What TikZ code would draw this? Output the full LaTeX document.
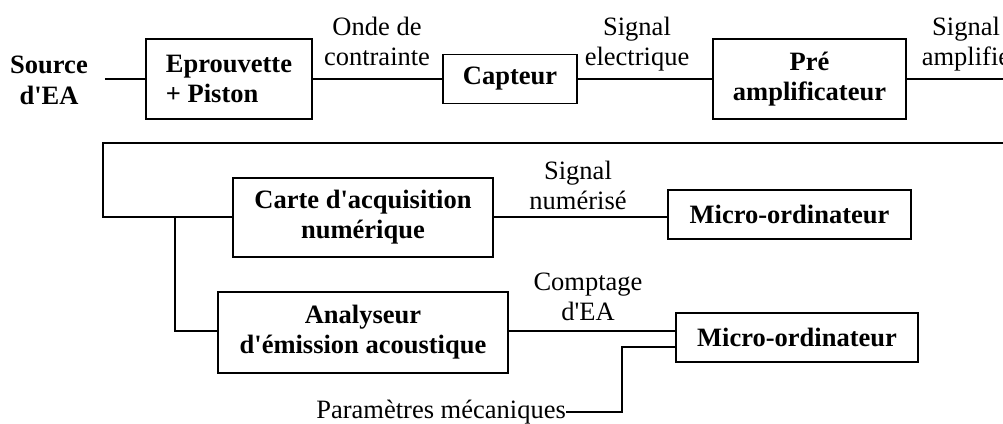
\documentclass[tikz,border=0pt]{standalone}
\usepackage{fontspec}
\newfontfamily\tnr{Liberation Serif}
\begin{document}
\begin{tikzpicture}[x=1pt,y=-1pt,
  every node/.style={font=\tnr\fontsize{26.5}{30}\selectfont, inner sep=0pt},
  box/.style={draw, line width=1.8pt, font=\tnr\fontsize{26.5}{30}\selectfont\bfseries, align=center},
  lab/.style={align=center, anchor=base},
  wire/.style={line width=1.8pt}]
\useasboundingbox (0,0) rectangle (1003,423);
\clip (0,0) rectangle (1003,423);
% row 1
\node[font=\tnr\fontsize{26.5}{31}\selectfont\bfseries, align=center, inner xsep=17pt] (src) at (49,80) {Source\\d'EA};
\node[box, align=left, minimum width=166pt, minimum height=80pt] (epr) at (229,79) {Eprouvette\\+ Piston};
\node[box, minimum width=134pt, minimum height=49pt] (cap) at (510,79) {Capteur};
\node[box, minimum width=193pt, minimum height=80pt] (pre) at (809.5,79) {Pré\\amplificateur};
\coordinate (rend) at (1010,79);
\node[lab] (l1) at (377,65) {Onde de\\contrainte};
\node[lab] (l2) at (637,65) {Signal\\electrique};
\node[lab] (l3) at (966,65) {Signal\\amplifié};
\draw[wire] (src.east |- epr.west) -- (epr.west);
\draw[wire] (epr.east) -- (cap.west);
\draw[wire] (cap.east) -- (pre.west);
\draw[wire] (pre.east) -- (rend);
% row 2
\node[box, minimum width=260pt, minimum height=79pt] (carte) at (363,217.5) {Carte d'acquisition\\numérique};
\node[box, minimum width=243pt, minimum height=49pt] (m1) at (789.5,214.5) {Micro-ordinateur};
\node[lab] (l4) at (578,209) {Signal\\numérisé};
\coordinate (rtop) at (1010,143);
\coordinate (corner) at (103,217);
\coordinate (junc) at (175,217);
\draw[wire] (rtop) -| (corner) -- (corner -| carte.west);
\draw[wire] (carte.east |- corner) -- (corner -| m1.west);
% row 3
\node[box, minimum width=290pt, minimum height=81pt] (ana) at (363,332.5) {Analyseur\\d'émission acoustique};
\node[box, minimum width=242pt, minimum height=49pt] (m2) at (797,337.5) {Micro-ordinateur};
\node[lab] (l5) at (588,320) {Comptage\\d'EA};
\coordinate (tap) at (175,331);
\draw[wire] (junc) -- (tap) -- (tap -| ana.west);
\draw[wire] (tap -| ana.east) -- (tap -| m2.west);
\node[anchor=east] (par) at (566,412) {Paramètres mécaniques};
\coordinate (bend) at (622,347);
\draw[wire] (par.east) -| (bend) -- (bend -| m2.west);
\end{tikzpicture}
\end{document}
